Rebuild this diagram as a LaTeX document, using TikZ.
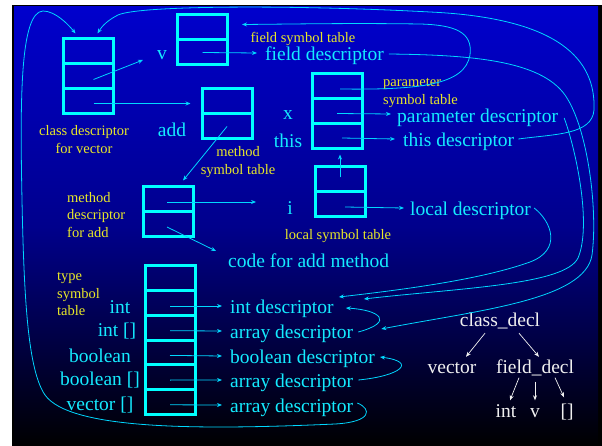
\documentclass[tikz,border=0pt]{standalone}
\usepackage{fontspec}
\setmainfont{Liberation Serif}
\usetikzlibrary{arrows.meta,calc}
\definecolor{boxc}{RGB}{0,255,255}
\definecolor{txtc}{RGB}{20,235,255}
\definecolor{linec}{RGB}{0,215,255}
\definecolor{lblc}{RGB}{232,232,40}
\definecolor{treec}{RGB}{240,240,240}
\definecolor{slidetop}{RGB}{0,0,205}
\definecolor{slidemid}{RGB}{0,0,140}
\begin{document}
\begin{tikzpicture}[x=1pt,y=-1pt,
  cell/.style={draw=boxc,line width=3pt,minimum width=50pt,minimum height=25pt,inner sep=0pt},
  tcell/.style={cell,minimum height=24.7pt},
  big/.style={text=txtc,inner sep=0pt,font=\fontsize{19.5}{22}\selectfont,yshift=-2.5pt},
  lbl/.style={text=lblc,inner sep=0pt,font=\fontsize{14.5}{17.5}\selectfont,yshift=-2pt},
  tree/.style={text=treec,inner sep=0pt,font=\fontsize{19.5}{22}\selectfont,text height=13pt,text depth=4pt},
  ptr/.style={draw=linec,line width=0.8pt,-{Stealth[length=5pt,width=4pt]}},
  treearrow/.style={draw=treec,line width=0.7pt,-{Stealth[length=5pt,width=4pt]}},
]
\useasboundingbox (0,0) rectangle (602,446);
% slide background
\fill[white] (0,0) rectangle (602,446);
\fill[black] (12,5) rectangle (602,446);
\shade[top color=slidetop,bottom color=black,middle color=slidemid] (14,7) rectangle (598,446);

% class descriptor for vector
\node[cell] (cd1) at (88.5,51.5) {};
\node[cell] (cd2) at (88.5,76.5) {};
\node[cell] (cd3) at (88.5,101.5) {};
\node[lbl,align=center] (cdlab) at (84,137.5) {class descriptor\\for vector};

% field symbol table
\node[cell] (ft1) at (202.5,27.5) {};
\node[cell] (ft2) at (202.5,52.5) {};
\node[lbl] (ftlab) at (303,37) {field symbol table};
\node[big] (vlab) at (162,53) {v};
\node[big,anchor=west] (fdesc) at (265,53) {field descriptor};

% method symbol table
\node[cell] (ms1) at (227,101.5) {};
\node[cell] (ms2) at (227,126.5) {};
\node[big] (addlab) at (172,127) {add};
\node[lbl,align=center] (mslab) at (238,160) {method\\symbol table};

% parameter symbol table
\node[cell] (pt1) at (337,86.5) {};
\node[cell] (pt2) at (337,111.5) {};
\node[cell] (pt3) at (337,136.5) {};
\node[big] (xlab) at (288,113) {x};
\node[big] (thislab) at (288,138) {this};
\node[lbl,align=left,anchor=west] (ptlab) at (383,91) {parameter\\symbol table};
\node[big,anchor=west] (pdesc) at (397,115) {parameter descriptor};
\node[big,anchor=west] (tdesc) at (403,139) {this descriptor};

% local symbol table
\node[cell] (lt1) at (340,179.5) {};
\node[cell] (lt2) at (340,204.5) {};
\node[big] (ilab) at (290,206) {i};
\node[lbl] (ltlab) at (338,234) {local symbol table};
\node[big,anchor=west] (ldesc) at (410,208) {local descriptor};

% method descriptor for add
\node[cell] (md1) at (168,199.5) {};
\node[cell] (md2) at (168,224.5) {};
\node[lbl,align=left,anchor=west] (mdlab) at (67,213) {method\\descriptor\\for add};
\node[big,anchor=west] (code) at (228,258) {code for add method};

% type symbol table
\node[tcell] (ty1) at (170,278.3) {};
\node[tcell] (ty2) at (170,303) {};
\node[tcell] (ty3) at (170,327.7) {};
\node[tcell] (ty4) at (170,352.4) {};
\node[tcell] (ty5) at (170,377.1) {};
\node[tcell] (ty6) at (170,401.8) {};
\node[lbl,align=left,anchor=west] (tylab) at (57,292) {type\\symbol\\table};
\node[big] (tint) at (120,305) {int};
\node[big] (tinta) at (117,329) {int []};
\node[big] (tbool) at (100,353) {boolean};
\node[big] (tboola) at (100,378) {boolean []};
\node[big] (tvec) at (100,403) {vector []};
\node[big,anchor=west] (dint) at (230,306) {int descriptor};
\node[big,anchor=west] (darr1) at (230,331) {array descriptor};
\node[big,anchor=west] (dbool) at (230,356) {boolean descriptor};
\node[big,anchor=west] (darr2) at (230,380) {array descriptor};
\node[big,anchor=west] (darr3) at (230,405) {array descriptor};

% syntax tree
\node[tree] (cdecl) at (500,322) {class\_decl};
\node[tree] (tvector) at (452,369) {vector};
\node[tree] (fdecl) at (535,369) {field\_decl};
\node[tree] (leafint) at (506,413) {int};
\node[tree] (leafv) at (535,413) {v};
\node[tree] (leafarr) at (567,413) {[]};

% straight pointers
\draw[ptr] ($(cd2.center)+(5,3)$) -- ($(vlab.center)+(-19,4.5)$);
\draw[ptr] ($(cd3.center)+(5,2)$) -- ($(ms1.west)+(-10,2)$);
\draw[ptr] (ft2.center) -- ($(fdesc.west)+(-8,-2.5)$);
\draw[ptr] (ms2.center) -- ($(md1.north)+(15,-5)$);
\draw[ptr] ($(pt2.center)+(0,2)$) -- ($(pdesc.west)+(-6,-3.5)$);
\draw[ptr] ($(pt3.center)+(5,1.5)$) -- ($(tdesc.west)+(-8,-2.5)$);
\draw[ptr] ($(lt1.center)+(0,-2)$) -- ($(lt1.center |- pt3.south)+(0,4)$);
\draw[ptr] ($(lt2.center)+(5,2.5)$) -- ($(ldesc.west)+(-6,-2.5)$);
\draw[ptr] ($(md1.center)+(-1,2.5)$) -- ($(ilab.west)+(-31,-6.5)$);
\draw[ptr] ($(md2.center)+(-1,2.5)$) -- ($(code.west)+(-12,-9.5)$);
\draw[ptr] ($(ty2.center)+(0,3)$) -- ($(dint.west)+(-8,-2.5)$);
\draw[ptr] ($(ty3.center)+(0,3)$) -- ($(darr1.west)+(-8,-2.5)$);
\draw[ptr] ($(ty4.center)+(0,3)$) -- ($(dbool.west)+(-8,-2.5)$);
\draw[ptr] ($(ty5.center)+(0,3)$) -- ($(darr2.west)+(-8,-2.5)$);
\draw[ptr] ($(ty6.center)+(0,3)$) -- ($(darr3.west)+(-8,-2.5)$);

% element types of the array descriptors
\draw[ptr] ($(darr1.east)+(5,-1.5)$) .. controls (395,322) and (380,310) .. ($(dint.east)+(12,-0.5)$);
\draw[ptr] ($(darr2.east)+(5,-2.5)$) .. controls (400,376) and (418,362) .. ($(dbool.east)+(5,-1.5)$);
\draw[ptr] ($(darr3.east)+(4,-4.5)$) .. controls (372,409) and (372,422) .. (335,424)
  .. controls (200,430) and (70,430) .. (45,395)
  .. controls (28,370) and (24,300) .. (22,200)
  .. controls (20,100) and (20,12) .. (43,11)
  .. controls (55,11) and (68,24) .. ($(cd1.north)+(-13,-4)$);

% type of this
\draw[ptr] ($(tdesc.east)+(4,-2.5)$) .. controls (555,134) and (592,135) .. (594,110)
  .. controls (596,60) and (560,18) .. (430,12)
  .. controls (300,5) and (140,5) .. (118,15)
  .. controls (108,20) and (102,26) .. ($(cd1.north)+(9,-4)$);

% enclosing scope of the parameters
\draw[ptr] ($(pt1.center)+(3,2.5)$) .. controls (420,90) and (465,85) .. (470,55)
  .. controls (473,32) and (455,25) .. (420,24)
  .. controls (350,23) and (300,24) .. ($(ft1.east)+(13,-3)$);

% types of field, parameter and local
\draw[ptr] ($(fdesc.east)+(5,-1.5)$) .. controls (470,55) and (540,60) .. (565,95)
  .. controls (588,128) and (598,210) .. (592,255)
  .. controls (585,300) and (480,310) .. ($(darr1.east)+(28,-4.5)$);
\draw[ptr] ($(pdesc.east)+(6,0.5)$) .. controls (576,150) and (592,225) .. (578,258)
  .. controls (565,285) and (460,288) .. ($(dint.east)+(30,-9.5)$);
\draw[ptr] ($(ldesc.east)+(3,-2.5)$) .. controls (552,222) and (562,250) .. (530,262)
  .. controls (480,280) and (400,290) .. ($(dint.east)+(5,-11.5)$);

% tree edges
\draw[treearrow] ($(cdecl.south)+(-15,2.5)$) -- ($(tvector.north)+(14,-3.5)$);
\draw[treearrow] ($(cdecl.south)+(19,2.5)$) -- ($(fdecl.north)+(4,-3.5)$);
\draw[treearrow] ($(fdecl.south)+(-16,0)$) -- ($(leafint.north)+(4,-4)$);
\draw[treearrow] ($(fdecl.south)+(0,4)$) -- ($(leafv.north)+(0,-4)$);
\draw[treearrow] ($(fdecl.south)+(20,0)$) -- ($(leafarr.north)+(-3,-7)$);
\end{tikzpicture}
\end{document}
